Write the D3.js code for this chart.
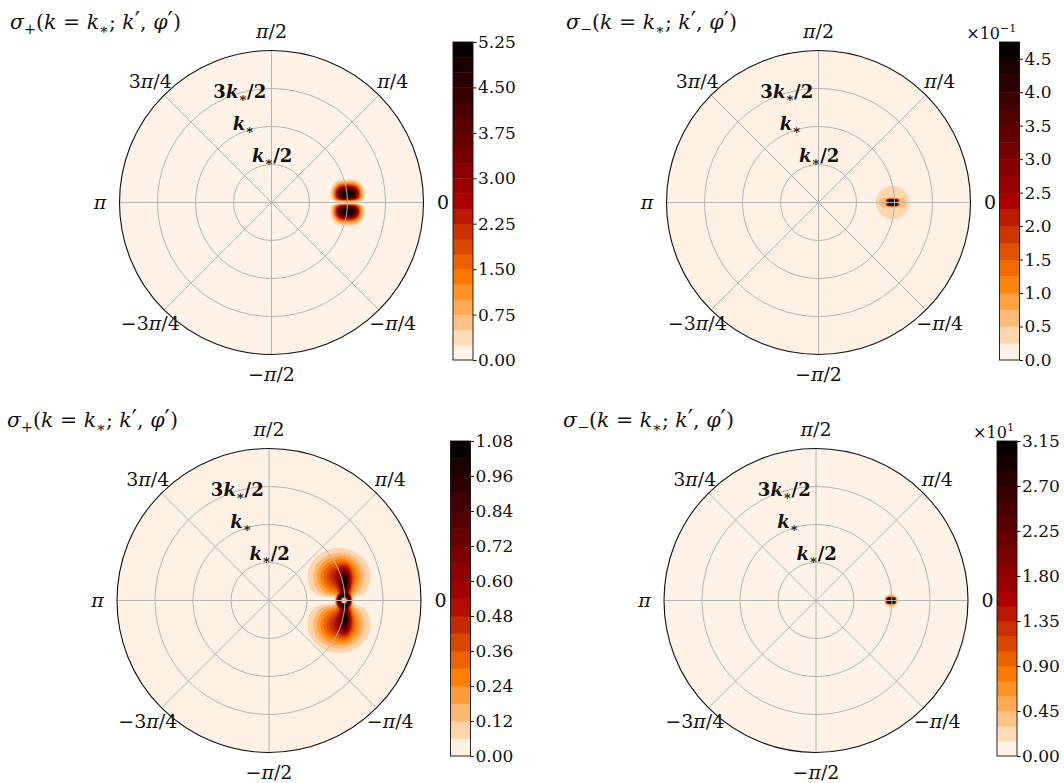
<!DOCTYPE html>
<html><head><meta charset="utf-8">
<script src="https://cdn.jsdelivr.net/npm/d3@7"></script>
<style>
body{margin:0;background:#fff;}
svg{display:block;}
text{font-family:"DejaVu Serif","Liberation Serif",serif;fill:#111;}
</style>
</head><body>
<svg id="chart" width="1064" height="783"></svg>
<script>
// ------------------ DATA ------------------
const panelSign = ["+", "−", "+", "−"];                 // σ+ / σ− titles
const cbMax = [5.25, 4.75, 1.08, 3.15];                  // top contour level (display units)
const cbLevelStep = [0.25, 0.25, 0.06, 0.15];            // contour level spacing
const cbTickStep = [0.75, 0.5, 0.12, 0.45];              // colour-bar tick spacing
const cbTickDigits = [2, 1, 2, 2];
const cbExponent = [0, -1, 0, 1];                        // ×10^n offset text (0 = none)
const angleTickDeg = [0, 45, 90, 135, 180, 225, 270, 315];
const angleTickLabels = [
  [{t:"0"}], [{t:"π", it:1}, {t:"/4"}], [{t:"π", it:1}, {t:"/2"}], [{t:"3"}, {t:"π", it:1}, {t:"/4"}],
  [{t:"π", it:1}], [{t:"−3"}, {t:"π", it:1}, {t:"/4"}], [{t:"−"}, {t:"π", it:1}, {t:"/2"}], [{t:"−"}, {t:"π", it:1}, {t:"/4"}]
];
const radialTicks = [0.5, 1, 1.5];                       // in units of k*
const radialTickLabels = [
  [{t:"k", it:1}, {t:"∗", sub:1}, {t:"/2"}],
  [{t:"k", it:1}, {t:"∗", sub:1}],
  [{t:"3"}, {t:"k", it:1}, {t:"∗", sub:1}, {t:"/2"}]
];
const rMax = 2;                                          // outer radius = 2 k*

// Features (k* units, x = k' cos φ', y = k' sin φ')
const featuresP1 = [
  {kind:"lobe", x:1.0, y: 0.118, sx:0.125, sy:0.079, p:3, a:5.2},
  {kind:"lobe", x:1.0, y:-0.118, sx:0.125, sy:0.079, p:3, a:5.2}
];
const featuresP2 = [
  {kind:"lobe", x:0.975, y: 0.026, sx:0.06, sy:0.012, p:4, a:4.72},
  {kind:"lobe", x:0.975, y:-0.026, sx:0.06, sy:0.012, p:4, a:4.72},
  {kind:"blob", x:0.975, y:0, sx:0.08, sy:0.045, p:2, a:1.4},
  {kind:"ring", x:0.975, y:0, rad:0.17, w:0.05, a:0.4}
];
const featuresP3 = [
  {kind:"lobe", x:0.92, y: 0.32, sx:0.2, sy:0.18, p:2, a:0.5},
  {kind:"lobe", x:0.92, y:-0.32, sx:0.2, sy:0.18, p:2, a:0.5},
  {kind:"lobe", x:1.0, y: 0.22, sx:0.05, sy:0.13, p:2, a:0.62},
  {kind:"lobe", x:1.0, y:-0.22, sx:0.05, sy:0.13, p:2, a:0.62},
  {kind:"ring", x:0.987, y:0, rad:0.065, w:0.025, a:0.95}
];
const featuresP4 = [
  {kind:"lobe", x:0.987, y: 0.022, sx:0.05, sy:0.011, p:4, a:3.12},
  {kind:"lobe", x:0.987, y:-0.022, sx:0.05, sy:0.011, p:4, a:3.12},
  {kind:"blob", x:0.987, y:0, sx:0.045, sy:0.045, p:2, a:1.3}
];
const panelFeatures = [featuresP1, featuresP2, featuresP3, featuresP4];
const notchWidth = [0.026, 0.008, 0.05, 0.008];          // zero line along φ' = 0
const holes = [null, null, {x:0.987, y:0, r:0.03}, null];

// ------------------ LAYOUT ------------------
const layout = [
  {cx:271.5, cy:202.5, tx:10,  ty:29,  bx:453,   by0:42,  by1:360},
  {cx:818.5, cy:202.5, tx:566, ty:29,  bx:999.5, by0:42,  by1:360},
  {cx:269,   cy:600.5, tx:7,   ty:427, bx:450.5, by0:441, by1:756},
  {cx:816,   cy:600.5, tx:563, ty:427, bx:997,   by0:441, by1:756}
];
const R = 152, barW = 20, N = 600;

const svg = d3.select("#chart");

function gistHeatR(t) {
  const x = 1 - t;
  const r = Math.min(1, x / 0.75), g = Math.max(0, (x - 0.5) / 0.5), b = Math.max(0, (x - 0.75) / 0.25);
  return d3.rgb(Math.round(r * 255), Math.round(g * 255), Math.round(b * 255)).formatHex();
}

function fieldValue(comps, notch, hole, x, y) {
  let lobe = 0, other = 0;
  for (const c of comps) {
    if (c.kind === "ring") {
      const d = Math.hypot(x - c.x, y - c.y);
      other += c.a * Math.exp(-0.5 * ((d - c.rad) / c.w) ** 2);
    } else {
      const dx = Math.abs((x - c.x) / c.sx), dy = (y - c.y) / c.sy;
      const v = c.a * Math.exp(-0.5 * Math.pow(dx, c.p) - 0.5 * dy * dy);
      if (c.kind === "lobe") lobe += v; else other += v;
    }
  }
  let f = lobe * (notch > 0 ? 1 - Math.exp(-0.5 * (y / notch) ** 2) : 1) + other;
  if (hole) f *= 1 - Math.exp(-0.5 * ((x - hole.x) ** 2 + (y - hole.y) ** 2) / (hole.r * hole.r));
  return f;
}

function richText(sel, segs, size, bold) {
  let shift = 0;
  segs.forEach(s => {
    const sp = sel.append("tspan").text(s.t);
    if (s.it) sp.attr("font-style", "italic");
    if (bold) sp.attr("font-weight", "bold");
    if (s.sub || s.sup) sp.attr("font-size", size * 0.7);
    if (s.big) sp.attr("font-size", size * s.big);
    const want = s.sub ? size * 0.22 : s.sup ? -size * 0.42 : 0;
    sp.attr("dy", want - shift);
    shift = want;
  });
}

layout.forEach((L, p) => {
  const g = svg.append("g");
  const max = cbMax[p], step = cbLevelStep[p];
  const nLev = Math.round(max / step);
  const levels = d3.range(nLev + 1).map(i => +(i * step).toFixed(6));
  const bandColor = levels.slice(0, -1).map((v, i) => gistHeatR((levels[i] + levels[i + 1]) / 2 / max));

  const rScale = d3.scaleLinear().domain([0, rMax]).range([0, R]);

  const clipId = "clip" + p;
  g.append("clipPath").attr("id", clipId).append("circle").attr("cx", L.cx).attr("cy", L.cy).attr("r", R);
  g.append("circle").attr("cx", L.cx).attr("cy", L.cy).attr("r", R).attr("fill", bandColor[0]);

  // field grid
  const values = new Float64Array(N * N);
  const cell = 2 * rMax / N;
  for (let j = 0; j < N; j++) {
    const y = rMax - (j + 0.5) * cell;
    for (let i = 0; i < N; i++) {
      const x = -rMax + (i + 0.5) * cell;
      values[j * N + i] = fieldValue(panelFeatures[p], notchWidth[p], holes[p], x, y);
    }
  }
  const contours = d3.contours().size([N, N]).thresholds(levels.slice(0, -1))(values);
  const path = d3.geoPath(d3.geoIdentity().scale(2 * R / N).translate([L.cx - R, L.cy - R]));
  g.append("g").attr("clip-path", `url(#${clipId})`)
    .selectAll("path").data(contours.slice(1)).join("path")
    .attr("d", path).attr("fill", (d, i) => bandColor[i + 1]).attr("stroke", "none");

  // grid rings
  g.append("g").selectAll("circle").data(radialTicks).join("circle")
    .attr("cx", L.cx).attr("cy", L.cy).attr("r", d => rScale(d))
    .attr("fill", "none").attr("stroke", "#b4b4b4").attr("stroke-width", 1);
  // spokes
  g.append("g").selectAll("line").data(angleTickDeg).join("line")
    .attr("x1", L.cx).attr("y1", L.cy)
    .attr("x2", d => L.cx + R * Math.cos(d * Math.PI / 180))
    .attr("y2", d => L.cy - R * Math.sin(d * Math.PI / 180))
    .attr("stroke", "#b4b4b4").attr("stroke-width", 1);
  // outline
  g.append("circle").attr("cx", L.cx).attr("cy", L.cy).attr("r", R)
    .attr("fill", "none").attr("stroke", "#111").attr("stroke-width", 1.1);

  // angle labels
  angleTickDeg.forEach((d, i) => {
    const t = g.append("text")
      .attr("x", L.cx + (R + 19.5) * Math.cos(d * Math.PI / 180))
      .attr("y", L.cy - (R + 19.5) * Math.sin(d * Math.PI / 180) + 6.5)
      .attr("text-anchor", "middle").attr("font-size", 19);
    richText(t, angleTickLabels[i], 19, false);
  });

  // radial labels
  radialTicks.forEach((r, i) => {
    const rp = rScale(r);
    const t = g.append("text")
      .attr("x", L.cx - 0.51 * rp).attr("y", L.cy - 8.5 - 0.842 * rp)
      .attr("font-size", 18);
    richText(t, radialTickLabels[i], 18, true);
  });

  // title
  const title = g.append("text").attr("x", L.tx).attr("y", L.ty).attr("font-size", 20.5);
  richText(title, [
    {t:"σ", it:1}, {t:panelSign[p], sub:1}, {t:"("}, {t:"k", it:1}, {t:" = "}, {t:"k", it:1},
    {t:"∗", sub:1}, {t:"; "}, {t:"k", it:1}, {t:"′", big:1.15}, {t:", "}, {t:"φ", it:1}, {t:"′", big:1.15}, {t:")"}
  ], 20.5, false);

  // colour bar
  const cb = d3.scaleLinear().domain([0, max]).range([L.by1, L.by0]);
  g.append("g").selectAll("rect").data(bandColor).join("rect")
    .attr("x", L.bx).attr("width", barW)
    .attr("y", (d, i) => cb(levels[i + 1]))
    .attr("height", (d, i) => cb(levels[i]) - cb(levels[i + 1]) + 0.4)
    .attr("fill", d => d);
  g.append("rect").attr("x", L.bx).attr("y", L.by0).attr("width", barW).attr("height", L.by1 - L.by0)
    .attr("fill", "none").attr("stroke", "#111").attr("stroke-width", 0.9);
  const nT = Math.floor(max / cbTickStep[p] + 1e-9);
  const ticks = d3.range(nT + 1).map(i => i * cbTickStep[p]);
  const ax = g.append("g").attr("transform", `translate(${L.bx + barW},0)`)
    .call(d3.axisRight(cb).tickValues(ticks).tickSize(3.5).tickPadding(1.5)
      .tickFormat(d3.format("." + cbTickDigits[p] + "f")));
  ax.select(".domain").remove();
  ax.selectAll("line").attr("stroke", "#111");
  ax.selectAll("text").attr("font-size", 17).attr("font-family", "DejaVu Serif").attr("fill", "#111");

  if (cbExponent[p] !== 0) {
    const ot = g.append("text").attr("x", L.bx + barW - 3).attr("y", L.by0 - 3)
      .attr("text-anchor", "end").attr("font-size", 16);
    richText(ot, [{t:"×10"}, {t: cbExponent[p] < 0 ? "−" + Math.abs(cbExponent[p]) : String(cbExponent[p]), sup:1}], 16, false);
  }
});
</script>
</body></html>
